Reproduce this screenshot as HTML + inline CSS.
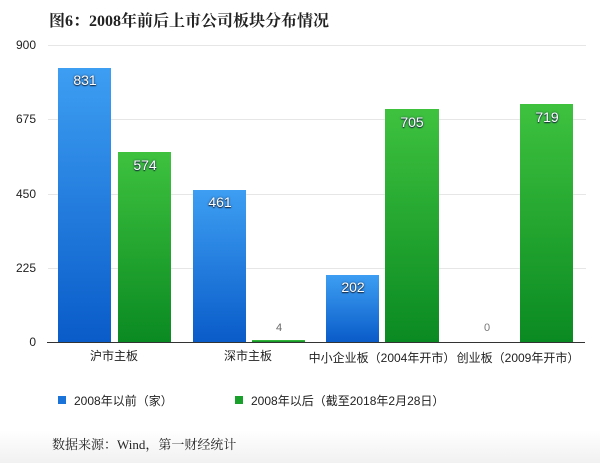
<!DOCTYPE html>
<html><head><meta charset="utf-8"><style>
body{margin:0;width:600px;height:463px;background:#fff;overflow:hidden;position:relative;font-family:"Liberation Sans","Noto Sans CJK SC",sans-serif;}
.t{position:absolute;white-space:nowrap}
.bar{position:absolute;}
.b{background:linear-gradient(#3d9ef2,#0a5cc9);}
.g{background:linear-gradient(#3ec23e,#0a8a22);}
.v{position:absolute;color:#fff;font-size:14px;text-shadow:0 0 2px #235,0 1px 1px #123;width:54px;text-align:center}
.grid{position:absolute;left:48px;width:538px;height:1px;background:#e6e6e6}
.y{position:absolute;font-size:12px;color:#222;left:6px;width:30px;text-align:right}
.c{position:absolute;font-size:12px;color:#222;text-align:center;width:200px}
</style></head><body>
<div class="t" style="left:49px;top:8px;font:bold 16px 'Liberation Serif','Noto Serif CJK SC',serif;color:#222">图6：2008年前后上市公司板块分布情况</div>
<div class="grid" style="top:45px"></div>
<div class="grid" style="top:119px"></div>
<div class="grid" style="top:194px"></div>
<div class="grid" style="top:268px"></div>
<div class="y" style="top:38px">900</div>
<div class="y" style="top:112px">675</div>
<div class="y" style="top:187px">450</div>
<div class="y" style="top:261px">225</div>
<div class="y" style="top:335px">0</div>

<div class="bar b" style="left:58px;width:53px;top:68px;height:274px"></div>
<div class="bar g" style="left:118px;width:53px;top:152px;height:190px"></div>
<div class="bar b" style="left:193px;width:53px;top:190px;height:152px"></div>
<div class="bar g" style="left:252px;width:53px;top:340px;height:2px"></div>
<div class="bar b" style="left:326px;width:53px;top:275px;height:67px"></div>
<div class="bar g" style="left:385px;width:54px;top:109px;height:233px"></div>
<div class="bar g" style="left:520px;width:53px;top:104px;height:238px"></div>
<div style="position:absolute;left:47px;top:342px;width:538px;height:1px;background:#333"></div>

<div class="v" style="left:58px;top:72px">831</div>
<div class="v" style="left:118px;top:157px">574</div>
<div class="v" style="left:193px;top:194px">461</div>
<div class="v" style="left:252px;top:322px;color:#666;font-size:11px;text-shadow:none">4</div>
<div class="v" style="left:326px;top:279px">202</div>
<div class="v" style="left:385px;top:114px">705</div>
<div class="v" style="left:460px;top:322px;color:#777;font-size:11px;text-shadow:none">0</div>
<div class="v" style="left:520px;top:109px">719</div>

<div class="c" style="left:14px;top:347px">沪市主板</div>
<div class="c" style="left:148px;top:347px">深市主板</div>
<div class="c" style="left:282px;top:349px">中小企业板（2004年开市）</div>
<div class="c" style="left:418px;top:349px">创业板（2009年开市）</div>

<div style="position:absolute;left:58px;top:396px;width:8px;height:8px;background:#1a73d8"></div>
<div class="t" style="left:74px;top:392px;font-size:12px;color:#222">2008年以前（家）</div>
<div style="position:absolute;left:235px;top:396px;width:8px;height:8px;background:#18a02a"></div>
<div class="t" style="left:251px;top:392px;font-size:12px;color:#222">2008年以后（截至2018年2月28日）</div>

<div style="position:absolute;left:0;top:430px;width:600px;height:33px;background:linear-gradient(#fff,#f1f1f1)"></div>
<div class="t" style="left:52px;top:434px;font:13px 'Liberation Serif','Noto Serif CJK SC',serif;color:#222">数据来源：Wind，第一财经统计</div>
</body></html>
